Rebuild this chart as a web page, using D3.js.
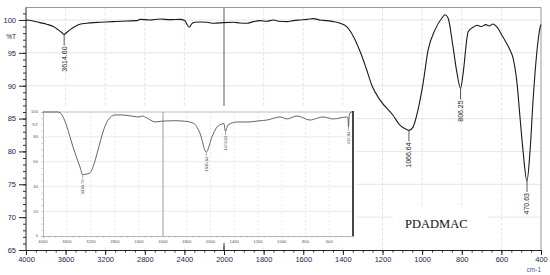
<!DOCTYPE html>
<html>
<head>
<meta charset="utf-8">
<script src="https://cdnjs.cloudflare.com/ajax/libs/d3/7.8.5/d3.min.js"></script>
<style>
  body { margin: 0; background: #fff; }
  svg { display: block; font-family: "Liberation Sans", Arial, sans-serif; }
</style>
</head>
<body>
<svg width="550" height="275"></svg>
<script>
// main spectrum, wavenumber (cm-1) and %T
var mainWn = [4000, 3993, 3926, 3859, 3791, 3724, 3674, 3639, 3616, 3589, 3556, 3505, 3455, 3387, 3320, 3253,
  3121, 2980, 2879, 2848, 2750, 2646, 2544, 2444, 2394, 2377, 2350, 2327, 2293, 2240, 2175, 2100, 2007,
  1953, 1920, 1885, 1852, 1818, 1785, 1751, 1720, 1683, 1650, 1616, 1580, 1549, 1515, 1482, 1448, 1414,
  1381, 1347, 1313, 1283, 1253, 1212, 1147, 1112, 1076, 1066, 1046, 1021, 995, 970, 935, 900, 884, 869,
  844, 824, 806, 793, 773, 768, 743, 723, 700, 680, 660, 642, 622, 592, 556, 541, 521, 506, 491, 471,
  455, 440, 420, 405, 400];
var mainT = [99.9, 100.0, 99.85, 99.6, 99.35, 99.0, 98.5, 98.1, 97.8, 98.1, 98.5, 99.0, 99.35, 99.5, 99.6, 99.65,
  99.75, 99.85, 99.9, 100.1, 100.0, 100.15, 100.05, 100.1, 99.9, 99.4, 98.9, 99.4, 99.65, 99.7, 99.65, 99.5, 99.6,
  99.65, 99.55, 99.5, 99.75, 99.9, 99.8, 100.0, 99.8, 99.75, 99.9, 100.0, 100.1, 100.2, 100.0, 99.9, 99.75, 99.5,
  99.0, 97.5, 95.2, 92.7, 90.0, 87.8, 85.5, 84.0, 83.3, 83.2, 83.7, 86.3, 90.4, 95.4, 98.5, 100.3, 100.8, 100.3,
  95.9, 91.9, 89.6, 91.9, 97.4, 98.2, 98.9, 99.2, 99.0, 99.3, 99.1, 99.4, 98.9, 97.4, 95.4, 94.2, 90.4, 85.2, 80.2, 75.5,
  80.2, 87.8, 95.4, 98.8, 99.3];

// inset spectrum
var insetWn = [4000, 3750, 3683, 3600, 3500, 3383, 3340, 3230, 3167, 3083, 3000, 2917, 2800, 2667, 2500, 2383,
  2350, 2267, 2133, 2000, 1900, 1832, 1747, 1689, 1636, 1588, 1545, 1503, 1488, 1474, 1453, 1377, 1268, 1200,
  1125, 1015, 956, 872, 762, 700, 652, 568, 450, 442, 438, 432, 415, 400];
var insetT = [100, 100, 97.6, 87.9, 71.8, 55.6, 49.5, 50.5, 55.6, 69.4, 83.9, 93.5, 97.6, 97.6, 96.5, 96.0,
  96.8, 95.2, 92.0, 92.7, 93.0, 92.7, 91.1, 83.0, 67.7, 79.8, 87.9, 90.3, 90.8, 84.5, 89.5, 91.9, 92.0, 92.8,
  93.5, 96.0, 94.4, 96.8, 93.5, 95.0, 96.0, 94.4, 96.0, 95.2, 88.0, 97.0, 100, 100];

var mainPeaks = [3614.60, 1066.64, 806.25, 470.63];
var mainPeakT = [97.8, 83.2, 89.6, 75.5];
var insetPeaks = [3338.79, 1635.64, 1473.62, 437.84];
var insetPeakT = [49.3, 67.7, 84.5, 88.0];

var xTicks = [4000, 3600, 3200, 2800, 2400, 2000, 1800, 1600, 1400, 1200, 1000, 800, 600, 400];
var insetXTicks = [4000, 3600, 3200, 2800, 2400, 2000, 1800, 1600, 1400, 1200, 1000, 800, 600];
var yTicks = [65, 70, 75, 80, 85, 90, 95, 100];
var insetYTicks = [0, 20, 40, 60, 80, 100];
var sampleName = "PDADMAC";

var svg = d3.select("svg");

// x axis changes scale at 2000 cm-1
var x = d3.scaleLinear().domain([4000, 2000, 400]).range([26, 224, 541]);
var y = d3.scaleLinear().domain([65, 101.9]).range([250, 7.5]);

var grid = svg.append("g");
grid.selectAll("line.h")
  .data(yTicks.filter(function(d) { return d > 65; }))
  .enter().append("line")
  .attr("x1", 26).attr("x2", 541)
  .attr("y1", function(d) { return y(d); })
  .attr("y2", function(d) { return y(d); })
  .attr("stroke", "#e0e0e0").attr("stroke-width", 0.8);
grid.selectAll("line.v")
  .data(xTicks.filter(function(d) { return d != 4000 && d != 400 && d != 2000; }))
  .enter().append("line")
  .attr("x1", function(d) { return x(d); })
  .attr("x2", function(d) { return x(d); })
  .attr("y1", 7.5).attr("y2", 250)
  .attr("stroke", "#dcdcdc").attr("stroke-width", 0.8)
  .attr("stroke-dasharray", "3,2");
grid.append("line")
  .attr("x1", x(2000)).attr("x2", x(2000))
  .attr("y1", 7.5).attr("y2", 250)
  .attr("stroke", "#8a8a8a").attr("stroke-width", 1.4);

// frame
svg.append("line").attr("x1", 26).attr("x2", 541).attr("y1", 7.5).attr("y2", 7.5)
  .attr("stroke", "#999").attr("stroke-width", 1);
svg.append("line").attr("x1", 541).attr("x2", 541).attr("y1", 7.5).attr("y2", 250)
  .attr("stroke", "#999").attr("stroke-width", 1);

// main spectrum
var line = d3.line()
  .curve(d3.curveMonotoneX)
  .x(function(d) { return x(d[0]); })
  .y(function(d) { return y(d[1]); });

svg.append("path")
  .datum(mainWn.map(function(w, i) { return [w, mainT[i]]; }))
  .attr("d", line)
  .attr("fill", "none")
  .attr("stroke", "#1a1a1a")
  .attr("stroke-width", 1.1);

// peak labels
var peaks = svg.append("g").selectAll("g")
  .data(mainPeaks)
  .enter().append("g")
  .attr("transform", function(d, i) { return "translate(" + x(d) + "," + y(mainPeakT[i]) + ")"; });
peaks.append("line")
  .attr("x1", 0).attr("x2", 0).attr("y1", 0).attr("y2", 11)
  .attr("stroke", "#333").attr("stroke-width", 0.8);
peaks.append("text")
  .attr("transform", "translate(0,12) rotate(-90)")
  .attr("text-anchor", "end")
  .attr("dy", "0.35em")
  .attr("font-size", 7)
  .attr("fill", "#222")
  .text(function(d) { return d.toFixed(2); });

// inset
var ix = d3.scaleLinear().domain([4000, 2000, 400]).range([43, 163, 353]);
var iy = d3.scaleLinear().domain([0, 100]).range([236, 112]);

svg.append("rect")
  .attr("x", 28).attr("y", 106).attr("width", 328).attr("height", 140)
  .attr("fill", "#fff");

var ig = svg.append("g");
ig.selectAll("line.h")
  .data(insetYTicks.filter(function(d) { return d > 0 && d < 100; }))
  .enter().append("line")
  .attr("x1", 43).attr("x2", 353)
  .attr("y1", function(d) { return iy(d); })
  .attr("y2", function(d) { return iy(d); })
  .attr("stroke", "#e2e2e2").attr("stroke-width", 0.7);
ig.selectAll("line.v")
  .data(insetXTicks.filter(function(d) { return d != 4000 && d != 2000; }))
  .enter().append("line")
  .attr("x1", function(d) { return ix(d); })
  .attr("x2", function(d) { return ix(d); })
  .attr("y1", 112).attr("y2", 236)
  .attr("stroke", "#e2e2e2").attr("stroke-width", 0.7)
  .attr("stroke-dasharray", "2,2");
ig.append("line")
  .attr("x1", ix(2000)).attr("x2", ix(2000))
  .attr("y1", 112).attr("y2", 236)
  .attr("stroke", "#909090").attr("stroke-width", 0.9);

ig.append("line").attr("x1", 43).attr("x2", 353).attr("y1", 112).attr("y2", 112)
  .attr("stroke", "#aaa").attr("stroke-width", 0.8);

var iline = d3.line()
  .curve(d3.curveMonotoneX)
  .x(function(d) { return ix(d[0]); })
  .y(function(d) { return iy(d[1]); });
ig.append("path")
  .datum(insetWn.map(function(w, i) { return [w, insetT[i]]; }))
  .attr("d", iline)
  .attr("fill", "none")
  .attr("stroke", "#555")
  .attr("stroke-width", 0.9);

ig.append("line").attr("x1", 353).attr("x2", 353).attr("y1", 111).attr("y2", 236)
  .attr("stroke", "#333").attr("stroke-width", 1.8);

var ixAxis = ig.append("g")
  .attr("transform", "translate(0,236)")
  .call(d3.axisBottom(ix)
    .tickValues(d3.range(4000, 1999, -100).concat(d3.range(1950, 399, -50)))
    .tickSize(1.5)
    .tickFormat(""));
ixAxis.select(".domain").attr("stroke", "#999").attr("stroke-width", 0.7);
ixAxis.selectAll(".tick line").attr("stroke", "#999").attr("stroke-width", 0.5);
ig.selectAll("text.ixl")
  .data(insetXTicks)
  .enter().append("text")
  .attr("x", function(d) { return ix(d); })
  .attr("y", 242.5)
  .attr("text-anchor", "middle")
  .attr("font-size", 4.2)
  .attr("fill", "#555")
  .text(function(d) { return d; });

var iyAxis = ig.append("g")
  .attr("transform", "translate(43,0)")
  .call(d3.axisLeft(iy).tickValues(d3.range(0, 101, 5)).tickSize(1.5).tickFormat(""));
iyAxis.select(".domain").attr("stroke", "#999").attr("stroke-width", 0.7);
iyAxis.selectAll(".tick line").attr("stroke", "#999").attr("stroke-width", 0.5);
ig.selectAll("text.iyl")
  .data(insetYTicks)
  .enter().append("text")
  .attr("x", 38)
  .attr("y", function(d) { return iy(d); })
  .attr("dy", "0.35em")
  .attr("text-anchor", "end")
  .attr("font-size", 4.2)
  .attr("fill", "#555")
  .text(function(d) { return d; });
ig.append("text")
  .attr("x", 38).attr("y", iy(89.5))
  .attr("dy", "0.35em")
  .attr("text-anchor", "end")
  .attr("font-size", 4.2)
  .attr("fill", "#555")
  .text("%T");

var ipeaks = ig.append("g").selectAll("g")
  .data(insetPeaks)
  .enter().append("g")
  .attr("transform", function(d, i) { return "translate(" + ix(d) + "," + iy(insetPeakT[i]) + ")"; });
ipeaks.append("line")
  .attr("x1", 0).attr("x2", 0).attr("y1", 0).attr("y2", 4)
  .attr("stroke", "#666").attr("stroke-width", 0.5);
ipeaks.append("text")
  .attr("transform", "translate(0,4.5) rotate(-90)")
  .attr("text-anchor", "end")
  .attr("dy", "0.35em")
  .attr("font-size", 4.2)
  .attr("fill", "#444")
  .text(function(d) { return d.toFixed(2); });

// sample name
svg.append("rect")
  .attr("x", 393).attr("y", 208).attr("width", 95).attr("height", 41)
  .attr("fill", "#fff");
svg.append("text")
  .attr("x", 405).attr("y", 228)
  .attr("font-family", "'Liberation Serif', 'Times New Roman', serif")
  .attr("font-size", 12.5)
  .attr("fill", "#111")
  .text(sampleName);

// main axes
var xAxis = svg.append("g")
  .attr("transform", "translate(0,250)")
  .call(d3.axisBottom(x)
    .tickValues(d3.range(3900, 2000, -100).concat(d3.range(1950, 400, -50)))
    .tickSize(2.5)
    .tickFormat(""));
xAxis.select(".domain").remove();
xAxis.selectAll(".tick line").attr("stroke", "#333");
var xMajor = svg.append("g")
  .attr("transform", "translate(0,250)")
  .call(d3.axisBottom(x).tickValues(xTicks).tickSize(5).tickPadding(2).tickFormat(d3.format("d")));
xMajor.select(".domain").attr("stroke", "#222").attr("stroke-width", 1);
xMajor.selectAll(".tick line").attr("stroke", "#222");
xMajor.selectAll(".tick text")
  .attr("font-size", 7.5)
  .attr("fill", "#22264a")
  .attr("font-family", "'Liberation Sans', Arial, sans-serif");
svg.append("line")
  .attr("x1", x(2000)).attr("x2", x(2000)).attr("y1", 243).attr("y2", 250)
  .attr("stroke", "#333").attr("stroke-width", 1);
svg.append("text")
  .attr("x", 541).attr("y", 272)
  .attr("text-anchor", "end")
  .attr("font-size", 6.5)
  .attr("fill", "#4a5a8a")
  .text("cm-1");

var yMinor = svg.append("g")
  .attr("transform", "translate(26,0)")
  .call(d3.axisLeft(y).tickValues(d3.range(66, 102, 1)).tickSize(3).tickFormat(""));
yMinor.select(".domain").remove();
yMinor.selectAll(".tick line").attr("stroke", "#333");
var yAxis = svg.append("g")
  .attr("transform", "translate(26,0)")
  .call(d3.axisLeft(y).tickValues(yTicks).tickSize(7).tickPadding(3).tickFormat(d3.format("d")));
yAxis.select(".domain").attr("d", "M0,7.5V250").attr("stroke", "#222");
yAxis.selectAll(".tick line").attr("stroke", "#222");
yAxis.selectAll(".tick text")
  .attr("font-size", 7.5)
  .attr("fill", "#22264a")
  .attr("font-family", "'Liberation Sans', Arial, sans-serif");
svg.append("text")
  .attr("x", 16).attr("y", y(97.5))
  .attr("dy", "0.35em")
  .attr("text-anchor", "end")
  .attr("font-size", 6.5)
  .attr("fill", "#22264a")
  .text("%T");
</script>
</body>
</html>
